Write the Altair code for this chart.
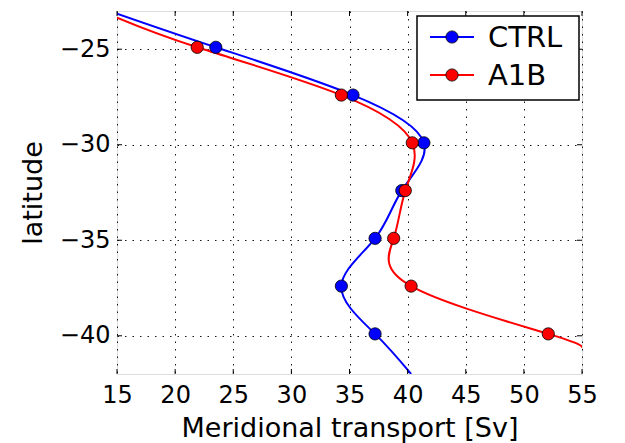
import altair as alt
import pandas as pd

# ---- data ----
series = ["CTRL", "A1B"]
colors = ["#0000ff", "#ff0000"]
latitude = [-24.9, -27.4, -29.9, -32.4, -34.9, -37.4, -39.9]
ctrl = [23.5, 35.3, 41.4, 39.5, 37.2, 34.3, 37.2]
a1b = [21.9, 34.3, 40.4, 39.8, 38.8, 40.3, 52.1]
# where the fitted curves leave the frame (top end, bottom end)
ctrl_end_transport = [15.0, 40.3]
ctrl_end_latitude = [-23.14, -42.0]
a1b_end_transport = [15.0, 55.0]
a1b_end_latitude = [-23.35, -40.64]
x_ticks = [15, 20, 25, 30, 35, 40, 45, 50, 55]
y_ticks = [-40, -35, -30, -25]

W, H = 465, 363
FONT = "DejaVu Sans"

# ---- tables ----
pts_rows = []
for name, vals in zip(series, [ctrl, a1b]):
    for i, (la, v) in enumerate(zip(latitude, vals)):
        pts_rows.append({"series": name, "latitude": la, "transport": v, "idx": i + 1})
pts = pd.DataFrame(pts_rows)

curve_rows = []
for name, vals, ex, ey in zip(series, [ctrl, a1b],
                              [ctrl_end_transport, a1b_end_transport],
                              [ctrl_end_latitude, a1b_end_latitude]):
    curve_rows.append({"series": name, "latitude": ey[0], "transport": ex[0], "idx": 0})
    for i, (la, v) in enumerate(zip(latitude, vals)):
        curve_rows.append({"series": name, "latitude": la, "transport": v, "idx": i + 1})
    curve_rows.append({"series": name, "latitude": ey[1], "transport": ex[1], "idx": len(vals) + 1})
curves = pd.DataFrame(curve_rows)

xs = alt.Scale(domain=[15, 55], nice=False, zero=False)
ys = alt.Scale(domain=[-42, -23], nice=False, zero=False)
cs = alt.Scale(domain=series, range=colors)

x_axis = alt.Axis(values=x_ticks, title="Meridional transport [Sv]", grid=True,
                  tickSize=0, domain=False, labelFontSize=24, labelPadding=9,
                  titleFontSize=27, titlePadding=8, titleFontWeight="normal",
                  labelFont=FONT, titleFont=FONT, labelColor="black", titleColor="black",
                  gridColor="black", gridDash=[1.5, 6], gridWidth=1, gridOpacity=0.9,
                  labelFlush=False)
y_axis = alt.Axis(values=y_ticks, title="latitude", grid=True,
                  tickSize=0, domain=False, labelFontSize=24, labelPadding=7,
                  titleFontSize=27, titlePadding=12, titleFontWeight="normal",
                  labelFont=FONT, titleFont=FONT, labelColor="black", titleColor="black",
                  gridColor="black", gridDash=[1.5, 6], gridWidth=1, gridOpacity=0.9)

lines = alt.Chart(curves).mark_line(interpolate="natural", strokeWidth=2, clip=True).encode(
    x=alt.X("transport:Q", scale=xs, axis=x_axis),
    y=alt.Y("latitude:Q", scale=ys, axis=y_axis),
    color=alt.Color("series:N", scale=cs, legend=None),
    detail="series:N",
    order="idx:Q",
)

markers = alt.Chart(pts).mark_circle(size=150, opacity=1, stroke="black", strokeWidth=0.8).encode(
    x=alt.X("transport:Q", scale=xs),
    y=alt.Y("latitude:Q", scale=ys),
    color=alt.Color("series:N", scale=cs, legend=None),
)

# inward tick marks on all four sides
xt = pd.DataFrame({"transport": x_ticks})
yt = pd.DataFrame({"latitude": y_ticks})
tick_style = dict(color="black", strokeWidth=1)
ticks_b = alt.Chart(xt).mark_rule(**tick_style).encode(
    x=alt.X("transport:Q", scale=xs), y=alt.value(H), y2=alt.value(H - 5))
ticks_t = alt.Chart(xt).mark_rule(**tick_style).encode(
    x=alt.X("transport:Q", scale=xs), y=alt.value(0), y2=alt.value(5))
ticks_l = alt.Chart(yt).mark_rule(**tick_style).encode(
    y=alt.Y("latitude:Q", scale=ys), x=alt.value(0), x2=alt.value(5))
ticks_r = alt.Chart(yt).mark_rule(**tick_style).encode(
    y=alt.Y("latitude:Q", scale=ys), x=alt.value(W), x2=alt.value(W - 5))

# legend box (drawn by hand to reproduce line+marker symbols)
one = pd.DataFrame({"k": [0]})
leg_layers = [
    alt.Chart(one).mark_rect(fill="white", stroke="black", strokeWidth=1.5).encode(
        x=alt.value(300), x2=alt.value(462), y=alt.value(5), y2=alt.value(89))
]
for i, (name, col) in enumerate(zip(series, colors)):
    yrow = 26 + i * 38
    leg_layers.append(alt.Chart(one).mark_rule(color=col, strokeWidth=2).encode(
        x=alt.value(313), x2=alt.value(357), y=alt.value(yrow)))
    leg_layers.append(alt.Chart(one).mark_circle(size=150, opacity=1, color=col, stroke="black",
                                                 strokeWidth=0.8).encode(
        x=alt.value(335), y=alt.value(yrow)))
    leg_layers.append(alt.Chart(one).mark_text(align="left", baseline="middle", fontSize=29,
                                               font=FONT, color="black").encode(
        x=alt.value(371), y=alt.value(yrow + 1), text=alt.value(name)))

chart = alt.layer(lines, markers, ticks_b, ticks_t, ticks_l, ticks_r, *leg_layers).properties(
    width=W, height=H,
    autosize=alt.AutoSizeParams(type="none"),
    padding={"left": 109, "top": 3, "right": 35, "bottom": 75},
).configure_view(stroke="black", strokeWidth=2).configure(background="white")

chart.save("out.html", embed_options={"renderer": "svg", "actions": False})
